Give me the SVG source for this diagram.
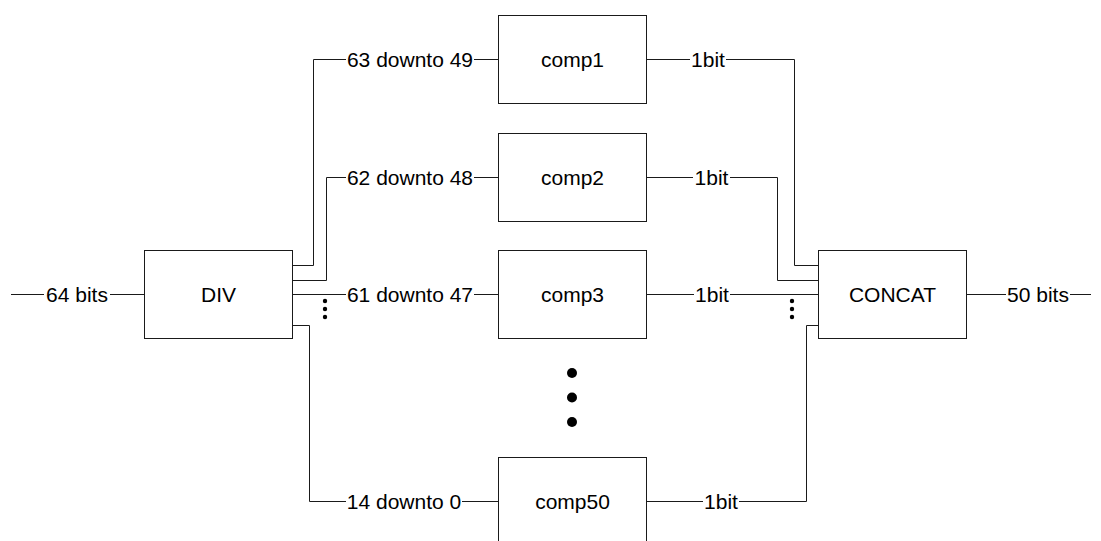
<svg xmlns="http://www.w3.org/2000/svg" width="1101" height="541" viewBox="0 0 1101 541">
  <style>
    .box { fill: #ffffff; stroke: #1a1a1a; stroke-width: 1; }
    .wire { fill: none; stroke: #1a1a1a; stroke-width: 1; }
    text { font-family: "Liberation Sans", Arial, sans-serif; font-size: 21px; fill: #000000; text-anchor: middle; }
    .dot { fill: #000000; }
  </style>
  <rect width="1101" height="541" fill="#ffffff"/>

  <!-- connectors -->
  <g id="connectors">
    <!-- input bus -->
    <path class="wire" d="M11,294.5 H44 M110,294.5 H144"/>
    <!-- DIV to comp1 -->
    <path class="wire" d="M292,265.5 H313.5 V59.5 H346 M474,59.5 H498"/>
    <!-- DIV to comp2 -->
    <path class="wire" d="M292,280.5 H326.5 V177.5 H346 M474,177.5 H498"/>
    <!-- DIV to comp3 -->
    <path class="wire" d="M292,294.5 H346 M474,294.5 H498"/>
    <!-- DIV to comp50 -->
    <path class="wire" d="M292,325.5 H309.5 V501.5 H346 M462,501.5 H498"/>
    <!-- comp1 to CONCAT -->
    <path class="wire" d="M646,59.5 H690 M726,59.5 H794.5 V265.5 H818"/>
    <!-- comp2 to CONCAT -->
    <path class="wire" d="M646,177.5 H693 M730,177.5 H777.5 V280.5 H818"/>
    <!-- comp3 to CONCAT -->
    <path class="wire" d="M646,294.5 H694 M730,294.5 H818"/>
    <!-- comp50 to CONCAT -->
    <path class="wire" d="M646,501.5 H703 M739,501.5 H806.5 V325.5 H818"/>
    <!-- output bus -->
    <path class="wire" d="M966,294.5 H1006 M1070,294.5 H1091"/>
  </g>

  <!-- connector labels -->
  <g id="labels">
    <text x="77" y="302">64 bits</text>
    <text x="410" y="67">63 downto 49</text>
    <text x="410" y="185">62 downto 48</text>
    <text x="410" y="302">61 downto 47</text>
    <text x="404" y="509">14 downto 0</text>
    <text x="708" y="67">1bit</text>
    <text x="711.5" y="185">1bit</text>
    <text x="712" y="302">1bit</text>
    <text x="721" y="509">1bit</text>
    <text x="1038" y="302">50 bits</text>
  </g>

  <!-- ellipsis marks -->
  <g id="ellipsis">
    <circle class="dot" cx="325" cy="301" r="2.2"/>
    <circle class="dot" cx="325" cy="309" r="2.2"/>
    <circle class="dot" cx="325" cy="317" r="2.2"/>
    <circle class="dot" cx="792" cy="301" r="2.2"/>
    <circle class="dot" cx="792" cy="309" r="2.2"/>
    <circle class="dot" cx="792" cy="317" r="2.2"/>
    <circle class="dot" cx="572" cy="373" r="5"/>
    <circle class="dot" cx="572" cy="397.5" r="5"/>
    <circle class="dot" cx="572" cy="422" r="5"/>
  </g>

  <!-- blocks -->
  <g id="div">
    <rect class="box" x="144.5" y="250.5" width="148" height="88"/>
    <text x="218.5" y="302">DIV</text>
  </g>
  <g id="comp1">
    <rect class="box" x="498.5" y="15.5" width="148" height="88"/>
    <text x="572.5" y="67">comp1</text>
  </g>
  <g id="comp2">
    <rect class="box" x="498.5" y="133.5" width="148" height="88"/>
    <text x="572.5" y="185">comp2</text>
  </g>
  <g id="comp3">
    <rect class="box" x="498.5" y="250.5" width="148" height="88"/>
    <text x="572.5" y="302">comp3</text>
  </g>
  <g id="comp50">
    <rect class="box" x="498.5" y="457.5" width="148" height="88"/>
    <text x="572.5" y="509">comp50</text>
  </g>
  <g id="concat">
    <rect class="box" x="818.5" y="250.5" width="148" height="88"/>
    <text x="892.5" y="302">CONCAT</text>
  </g>
</svg>
